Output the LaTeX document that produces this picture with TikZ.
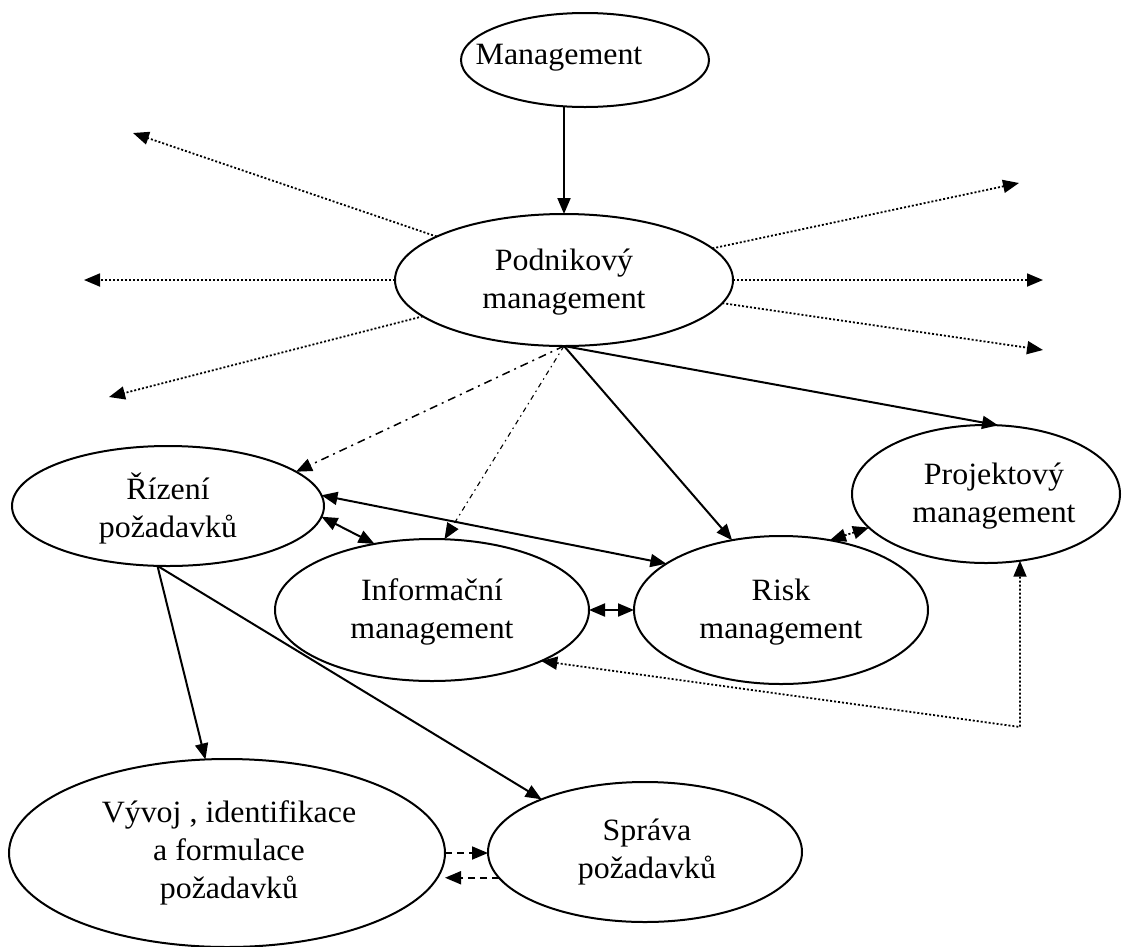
\documentclass[tikz,border=0pt]{standalone}
\usepackage{fontspec}
\setmainfont{Liberation Serif}[FakeStretch=1.03]
\usetikzlibrary{shapes.geometric,arrows.meta}
\begin{document}
\begin{tikzpicture}[x=1pt,y=-1pt,
  oval/.style={draw,ellipse,line width=2pt,inner sep=0pt,outer sep=0pt,align=center},
  lbl/.style={align=center,inner sep=0pt,font=\fontsize{31}{38}\selectfont},
  tip/.style={-{Triangle[length=16pt,width=13pt]}},
  tips/.style={{Triangle[length=16pt,width=13pt]}-{Triangle[length=16pt,width=13pt]}},
  solidline/.style={line width=2pt},
  dotline/.style={line width=1.8pt,dash pattern=on 2pt off 2pt},
  dashdotline/.style={line width=1.5pt,dash pattern=on 8pt off 5pt on 2pt off 5pt},
  thindashdot/.style={line width=1.1pt,dash pattern=on 5pt off 4pt on 1.5pt off 4pt},
  dashline/.style={line width=1.8pt,dash pattern=on 7pt off 5pt},
]
\useasboundingbox (0,0) rectangle (1133,946);

% ellipses
\node[oval,minimum width=248pt,minimum height=94pt] (man) at (585,60) {};
\node[lbl] (mantxt) at (559,58) {Management};
\node[oval,minimum width=338pt,minimum height=132pt] (pod) at (564,280) {};
\node[lbl] (podtxt) at (564,282) {Podnikový\\management};
\node[oval,minimum width=312pt,minimum height=120pt] (riz) at (168,506) {};
\node[lbl] (riztxt) at (168,508) {Řízení\\požadavků};
\node[oval,minimum width=268pt,minimum height=138pt] (proj) at (986,494) {};
\node[lbl] (projtxt) at (994,496) {Projektový\\management};
\node[oval,minimum width=314pt,minimum height=142pt] (info) at (432,610) {};
\node[lbl] (infotxt) at (432,612) {Informační\\management};
\node[oval,minimum width=294pt,minimum height=148pt] (risk) at (781,610) {};
\node[lbl] (risktxt) at (781,612) {Risk\\management};
\node[oval,minimum width=436pt,minimum height=188pt] (viv) at (227,853) {};
\node[lbl] (vivtxt) at (229,853) {Vývoj , identifikace\\a formulace\\požadavků};
\node[oval,minimum width=314pt,minimum height=140pt] (spr) at (645,852) {};
\node[lbl] (sprtxt) at (647,852) {Správa\\požadavků};

% free ends of the dotted rays
\coordinate (rUL) at (133,133);
\coordinate (rL) at (84,280);
\coordinate (rLL) at (109,397);
\coordinate (rUR) at (1019,183);
\coordinate (rR) at (1043,280);
\coordinate (rLR) at (1043,350);
\coordinate (bend) at (1020,727);

% solid connectors
\draw[solidline,tip] (pod.north |- man.south) -- (pod.north);
\draw[solidline,tip] (pod.south) -- (proj.80);
\draw[solidline,tip] (pod.south) -- (risk.125);
\draw[solidline,tips] (riz.4) -- (risk.158);
\draw[solidline,tips] (riz.-4) -- (info.131);
\draw[solidline,tips] (info.east) -- (risk.west);
\draw[solidline,tip] (riz.260) -- (viv.103);
\draw[solidline,tip] (riz.260) -- (spr.153);

% dash-dot connectors
\draw[dashdotline,tip] (pod.south) -- (riz.15);
\draw[thindashdot,tip] (pod.south) -- (info.80);

% dotted connectors
\draw[dotline,tip] (pod) -- (rUL);
\draw[dotline,tip] (pod) -- (rL);
\draw[dotline,tip] (pod) -- (rLL);
\draw[dotline,tip] (pod) -- (rUR);
\draw[dotline,tip] (pod) -- (rR);
\draw[dotline,tip] (pod) -- (rLR);
\draw[dotline,tips] (risk.55) -- (proj.196);
\draw[dotline,tips] (info.-25) -- (bend) -- (proj.-63);

% dashed connectors
\draw[dashline,tip] (viv.east) -- (viv.east -| spr.west);
\draw[dashline,tip] (spr.190) -- (spr.190 -| viv.east);
\end{tikzpicture}
\end{document}
